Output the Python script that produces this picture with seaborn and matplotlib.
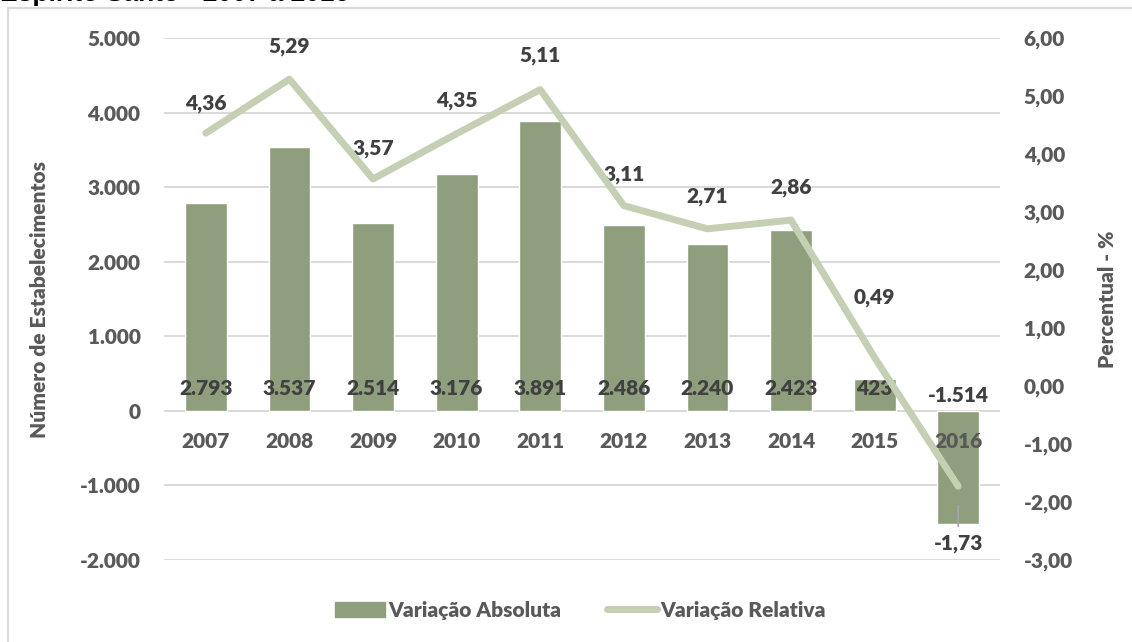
import matplotlib
matplotlib.use("Agg")
import matplotlib.pyplot as plt
import numpy as np
import pandas as pd
import seaborn as sns
from matplotlib.lines import Line2D
from matplotlib.patches import Patch, Rectangle

years = ["2007", "2008", "2009", "2010", "2011", "2012", "2013", "2014", "2015", "2016"]
var_abs = [2793, 3537, 2514, 3176, 3891, 2486, 2240, 2423, 423, -1514]
var_rel = [4.36, 5.29, 3.57, 4.35, 5.11, 3.11, 2.71, 2.86, 0.49, -1.73]

title = "Espírito Santo - 2007 a 2016"
left_ticks = [-2000, -1000, 0, 1000, 2000, 3000, 4000, 5000]
right_ticks = [-3, -2, -1, 0, 1, 2, 3, 4, 5, 6]

BAR = "#8f9e7c"
LINE = "#c4cfb4"
TXT = "#595959"
LBL = "#404040"
W = 800


def br_int(v):
    return f"{v:,.0f}".replace(",", ".")


def br_dec(v):
    return f"{v:.2f}".replace(".", ",")


sns.set_theme(style="white")
plt.rcParams["font.family"] = ["Lato", "DejaVu Sans"]
plt.rcParams["font.weight"] = W

df = pd.DataFrame({"ano": years, "abs": var_abs, "rel": var_rel})

fig = plt.figure(figsize=(11.32, 6.42), dpi=100)
ax = fig.add_axes([164 / 1132, 82 / 642, 836 / 1132, 522 / 642])

for t in left_ticks:
    ax.axhline(t, color="#d9d9d9", lw=1.4, zorder=0)
sns.barplot(data=df, x="ano", y="abs", color=BAR, width=0.5, saturation=1, ax=ax, zorder=1)
ax.set_axisbelow(False)
ax.set_ylim(-2000, 5000)
ax.set_xlim(-0.5, 9.5)
ax.set_yticks(left_ticks)
ax.set_yticklabels([br_int(v) for v in left_ticks])
for s in ["top", "right", "left"]:
    ax.spines[s].set_visible(False)
ax.spines["bottom"].set_position(("data", 0))
ax.spines["bottom"].set_visible(False)
ax.tick_params(axis="x", length=0, pad=15, labelsize=15, labelcolor=TXT)
ax.tick_params(axis="y", length=0, pad=17, labelsize=15, labelcolor=TXT)
for lab in ax.get_xticklabels() + ax.get_yticklabels():
    lab.set_fontweight(W)
ax.set_xlabel("")
ax.set_ylabel("Número de Estabelecimentos", fontsize=15, color=TXT, fontweight=W, labelpad=22)

for i, v in enumerate(var_abs):
    y = 300 if v > 0 else 200
    ax.text(i, y, br_int(v), ha="center", va="center", fontsize=15, color=LBL, fontweight=W, zorder=3)

ax2 = ax.twinx()
sns.lineplot(x=np.arange(len(years)), y=var_rel, color=LINE, lw=5, ax=ax2,
             solid_capstyle="round", solid_joinstyle="round", zorder=4)
ax2.set_ylim(-3, 6)
ax2.set_yticks(right_ticks)
ax2.set_yticklabels([br_dec(v) for v in right_ticks])
for s in ax2.spines.values():
    s.set_visible(False)
ax2.tick_params(axis="y", length=0, pad=17, labelsize=15, labelcolor=TXT)
for lab in ax2.get_yticklabels():
    lab.set_fontweight(W)
ax2.set_ylabel("Percentual - %", fontsize=15, color=TXT, fontweight=W, labelpad=18)
ax2.grid(False)

dy = [30, 33, 30, 33, 34, 31, 32, 33, 60, -57]
for i, (v, d) in enumerate(zip(var_rel, dy)):
    if d < 0:
        ax2.annotate(br_dec(v), xy=(i, v), xytext=(0, d), textcoords="offset pixels",
                     ha="center", va="center", fontsize=15, color=LBL, fontweight=W,
                     arrowprops=dict(arrowstyle="-", color="#a6a6a6", lw=1.2, shrinkA=3, shrinkB=14))
    else:
        ax2.annotate(br_dec(v), xy=(i, v), xytext=(0, d), textcoords="offset pixels",
                     ha="center", va="center", fontsize=15, color=LBL, fontweight=W)

handles = [Patch(facecolor=BAR, edgecolor=BAR),
           Line2D([0], [0], color=LINE, lw=5, solid_capstyle="round")]
fig.legend(handles, ["Variação Absoluta", "Variação Relativa"], loc="center",
           bbox_to_anchor=(580 / 1132, 1 - 610 / 642), ncol=2, frameon=False,
           prop={"size": 15, "weight": W}, labelcolor=TXT, handlelength=2.4, handleheight=0.7,
           handletextpad=0.15, columnspacing=2.2)

fig.patches.append(Rectangle((8 / 1132, -0.1), 1.2, 1.1 - 8 / 642, fill=False,
                             edgecolor="#d9d9d9", lw=1.5, transform=fig.transFigure))
fig.text(0.0, 1 - 1.5 / 642, title, ha="left", va="baseline", fontsize=19,
         fontweight="bold", color="black", family=["Liberation Sans", "DejaVu Sans"])

fig.savefig("out.png", dpi=100)
